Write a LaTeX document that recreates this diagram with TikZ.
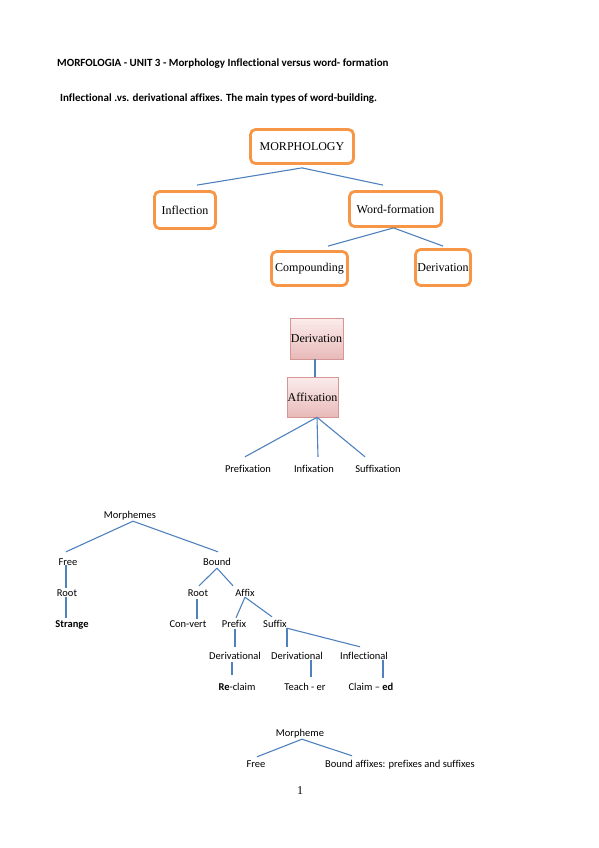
\documentclass[tikz,border=0pt]{standalone}
\usepackage{fontspec}
\setmainfont[Ligatures=CommonOff]{Carlito}
\newfontfamily\timesfont{Liberation Serif}
\usepackage{tikz}
\usetikzlibrary{positioning}
\definecolor{boxorange}{RGB}{247,150,70}
\definecolor{linkblue}{RGB}{79,129,189}
\definecolor{pinktop}{RGB}{251,236,236}
\definecolor{pinkbot}{RGB}{232,186,185}
\definecolor{pinkline}{RGB}{214,150,148}

\begin{document}
\begin{tikzpicture}[x=1pt,y=-1pt,
  orangebox/.style={draw=boxorange,line width=2.8pt,rounded corners=5pt,fill=white,
    font=\timesfont\fontsize{12}{14}\selectfont,inner sep=0pt},
  pinkbox/.style={draw=pinkline,line width=0.6pt,top color=pinktop,bottom color=pinkbot,
    font=\timesfont\fontsize{12}{14}\selectfont,inner sep=0pt},
  branch/.style={draw=linkblue,line width=1.1pt},
  lbl/.style={font=\fontsize{10.5}{12}\selectfont,inner sep=1pt,text height=8pt,text depth=2pt}]
  \useasboundingbox (0,0) rectangle (599,848);
  % heading
  \node[anchor=west,inner sep=0pt,font=\bfseries\fontsize{11}{13}\selectfont] (head1) at (57,64)
    {MORFOLOGIA - UNIT 3 - Morphology Inflectional versus word- formation};
  \node[anchor=west,inner sep=0pt,font=\bfseries\fontsize{11}{13}\selectfont] (head2) at (60,99)
    {Inflectional .vs. derivational affixes. The main types of word-building.};
  % orange chart
  \begin{scope}
    \node[orangebox,minimum width=103pt,minimum height=34pt] (morph) at (302,146.5) {MORPHOLOGY};
    \node[orangebox,minimum width=61pt,minimum height=37pt] (infl) at (185,210) {Inflection};
    \node[orangebox,minimum width=92pt,minimum height=35pt] (wf) at (395.5,209) {Word-formation};
    \node[orangebox,minimum width=76pt,minimum height=34pt] (comp) at (309.5,268.5) {Compounding};
    \node[orangebox,minimum width=55pt,minimum height=36pt] (deriv) at (443,267.5) {Derivation};
    \draw[branch] ([yshift=-3pt]morph.south) -- ([xshift=12pt,yshift=5pt]infl.north);
    \draw[branch] ([yshift=-3pt]morph.south) -- ([xshift=-12.5pt,yshift=5pt]wf.north);
    \draw[branch] ([xshift=-2pt]wf.south) -- ([xshift=18.5pt,yshift=4pt]comp.north);
    \draw[branch] ([xshift=-2pt]wf.south) -- ([yshift=2pt]deriv.north);
  \end{scope}
  % pink chart
  \begin{scope}
    \node[pinkbox,minimum width=53pt,minimum height=41pt] (der) at (316.5,338.5) {Derivation};
    \node[pinkbox,minimum width=51pt,minimum height=40pt] (affx) at (312.5,397) {Affixation};
    \draw[branch] ([xshift=-1.5pt]der.south) -- ([xshift=2.5pt]affx.north);
    \node[lbl] (pre) at (248,469) {Prefixation};
    \node[lbl] (inf) at (314,469) {Infixation};
    \node[lbl] (suf) at (378,469) {Suffixation};
    \draw[branch] ([xshift=4.5pt]affx.south) -- ([xshift=-3pt,yshift=6pt]pre.north);
    \draw[branch] ([xshift=4.5pt]affx.south) -- ([xshift=4pt,yshift=6pt]inf.north);
    \draw[branch] ([xshift=4.5pt]affx.south) -- ([xshift=-13pt,yshift=6pt]suf.north);
  \end{scope}
  % morphemes tree
  \begin{scope}
    \node[lbl] (mphs) at (130,515) {Morphemes};
    \node[lbl] (free) at (68,562) {Free};
    \node[lbl] (bound) at (217,562) {Bound};
    \node[lbl] (rootA) at (67,593) {Root};
    \node[lbl,font=\bfseries\fontsize{10.5}{12}\selectfont] (strange) at (72,624) {Strange};
    \node[lbl] (rootB) at (198,593) {Root};
    \node[lbl] (affix) at (245,593) {Affix};
    \node[lbl] (conv) at (188,624) {Con-vert};
    \node[lbl] (prefix) at (234,624) {Prefix};
    \node[lbl] (suffix) at (275,624) {Suffix};
    \node[lbl] (derA) at (235,656) {Derivational};
    \node[lbl] (derB) at (297,656) {Derivational};
    \node[lbl] (inflB) at (364,656) {Inflectional};
    \node[lbl] (reclaim) at (237,687) {\textbf{Re}-claim};
    \node[lbl] (teach) at (305,687) {Teach - er};
    \node[lbl] (claim) at (371,687) {Claim -- \textbf{ed}};
    \draw[branch] ([xshift=3pt]mphs.south) -- ([xshift=-2pt,yshift=4pt]free.north);
    \draw[branch] ([xshift=3pt]mphs.south) -- ([xshift=1pt,yshift=4pt]bound.north);
    \draw[branch] ([xshift=-2pt,yshift=3pt]free.south) -- ([xshift=-1pt,yshift=-1pt]rootA.north);
    \draw[branch] ([xshift=-1pt,yshift=2pt]rootA.south) -- ([xshift=-6pt]strange.north);
    \draw[branch] (bound.south) -- ([xshift=1pt,yshift=1pt]rootB.north);
    \draw[branch] (bound.south) -- ([xshift=-12pt,yshift=1pt]affix.north);
    \draw[branch] ([xshift=-1pt]rootB.south) -- ([xshift=9pt,yshift=-1pt]conv.north);
    \draw[branch] ([yshift=2pt]affix.south) -- ([xshift=2pt]prefix.north);
    \draw[branch] ([yshift=2pt]affix.south) -- ([xshift=-3pt,yshift=1pt]suffix.north);
    \draw[branch] ([xshift=1pt,yshift=1pt]prefix.south) -- ([yshift=3pt]derA.north);
    \draw[branch] ([xshift=12pt,yshift=2pt]suffix.south) -- ([xshift=-10pt,yshift=3pt]derB.north);
    \draw[branch] ([xshift=12pt,yshift=2pt]suffix.south) -- ([xshift=-4pt,yshift=3pt]inflB.north);
    \draw[branch] ([xshift=-3pt]derA.south) -- ([xshift=-5pt,yshift=6pt]reclaim.north);
    \draw[branch] ([xshift=14pt,yshift=2pt]derB.south) -- ([xshift=6pt,yshift=4pt]teach.north);
    \draw[branch] ([xshift=19pt,yshift=2pt]inflB.south) -- ([xshift=12pt,yshift=3pt]claim.north);
  \end{scope}
  % morpheme tree
  \begin{scope}
    \node[lbl] (mph) at (300,733) {Morpheme};
    \node[lbl] (freeB) at (256,764) {Free};
    \node[lbl] (baf) at (400,764) {Bound affixes: prefixes and suffixes};
    \draw[branch] ([xshift=2pt]mph.south) -- ([xshift=1pt,yshift=1pt]freeB.north);
    \draw[branch] ([xshift=2pt]mph.south) -- ([xshift=-48pt,yshift=2pt]baf.north);
  \end{scope}
  \node[font=\timesfont\fontsize{12}{14}\selectfont,inner sep=0pt] (pagenum) at (300,791) {1};
\end{tikzpicture}
\end{document}
